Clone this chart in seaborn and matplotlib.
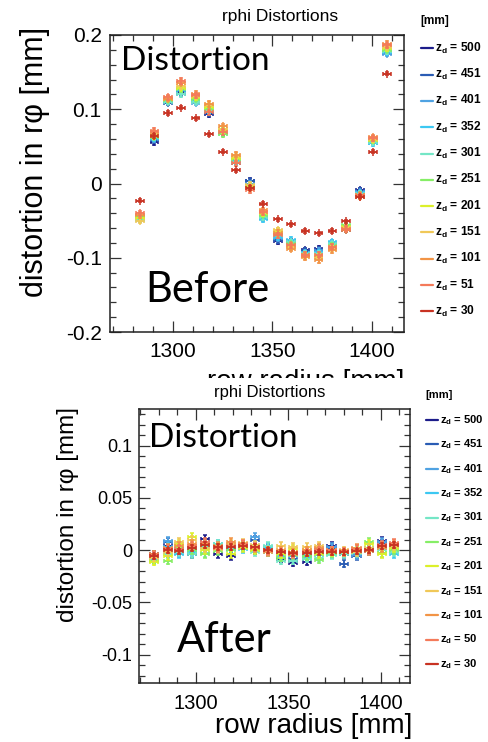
import numpy as np
import pandas as pd
import matplotlib
matplotlib.use("Agg")
import matplotlib.pyplot as plt
from matplotlib.lines import Line2D
from matplotlib.patches import Rectangle
import seaborn as sns

# ---------------- data ----------------
z_before = ["500", "451", "401", "352", "301", "251", "201", "151", "101", "51", "30"]
z_after = ["500", "451", "401", "352", "301", "251", "201", "151", "101", "50", "30"]
series_colors = ["#1c1c8a", "#2a5cb4", "#4fa2e2", "#3cc8f2", "#74e6c6", "#86ee66",
                 "#dcf02a", "#f0c858", "#f29446", "#f47a5a", "#c83222"]

r_before = [1283.6, 1290.8, 1297.5, 1304.2, 1311.4, 1318.2, 1325.1, 1331.7, 1338.8, 1345.5,
            1352.8, 1359.4, 1366.5, 1373.2, 1380.1, 1386.8, 1393.8, 1400.5, 1407.5]
before = {
    "500": [-0.045, 0.056, 0.110, 0.122, 0.116, 0.093, 0.068, 0.030, 0.004, -0.046, -0.078, -0.080, -0.090, -0.088, -0.083, -0.062, -0.009, 0.058, 0.177],
    "451": [-0.047, 0.058, 0.109, 0.124, 0.113, 0.095, 0.069, 0.028, 0.003, -0.044, -0.076, -0.078, -0.091, -0.089, -0.082, -0.061, -0.010, 0.057, 0.176],
    "401": [-0.048, 0.060, 0.111, 0.121, 0.109, 0.104, 0.070, 0.031, 0.000, -0.047, -0.074, -0.081, -0.093, -0.091, -0.080, -0.060, -0.012, 0.055, 0.175],
    "352": [-0.046, 0.061, 0.112, 0.126, 0.112, 0.098, 0.071, 0.032, -0.002, -0.048, -0.072, -0.076, -0.094, -0.093, -0.079, -0.058, -0.013, 0.054, 0.177],
    "301": [-0.049, 0.062, 0.110, 0.120, 0.110, 0.099, 0.067, 0.029, -0.003, -0.045, -0.070, -0.079, -0.095, -0.095, -0.082, -0.057, -0.014, 0.056, 0.178],
    "251": [-0.044, 0.063, 0.113, 0.127, 0.114, 0.101, 0.066, 0.033, -0.005, -0.042, -0.068, -0.082, -0.096, -0.097, -0.084, -0.056, -0.015, 0.058, 0.180],
    "201": [-0.047, 0.064, 0.114, 0.129, 0.116, 0.103, 0.072, 0.035, -0.004, -0.040, -0.064, -0.084, -0.097, -0.098, -0.086, -0.059, -0.016, 0.059, 0.182],
    "151": [-0.050, 0.066, 0.115, 0.131, 0.118, 0.106, 0.074, 0.037, -0.002, -0.038, -0.063, -0.086, -0.098, -0.100, -0.088, -0.060, -0.017, 0.060, 0.184],
    "101": [-0.043, 0.069, 0.114, 0.136, 0.121, 0.107, 0.077, 0.039, -0.006, -0.036, -0.066, -0.088, -0.099, -0.103, -0.090, -0.062, -0.018, 0.062, 0.188],
    "51":  [-0.040, 0.071, 0.116, 0.138, 0.119, 0.096, 0.069, 0.027, -0.009, -0.039, -0.070, -0.083, -0.096, -0.096, -0.085, -0.061, -0.016, 0.061, 0.186],
    "30":  [-0.023, 0.064, 0.095, 0.102, 0.088, 0.066, 0.043, 0.018, -0.006, -0.027, -0.048, -0.055, -0.064, -0.067, -0.064, -0.051, -0.018, 0.043, 0.148],
}

r_after = [1277.5, 1284.7, 1291.0, 1298.0, 1304.9, 1311.7, 1318.8, 1325.6, 1331.9, 1339.1,
           1345.9, 1352.6, 1359.8, 1366.6, 1373.3, 1380.1, 1386.8, 1393.7, 1400.7, 1407.2]
after = {
    "500": [-0.004, 0.004, -0.002, -0.004, 0.011, -0.004, -0.006, 0.003, 0.000, -0.002, -0.008, -0.012, -0.011, -0.004, 0.004, -0.004, -0.004, 0.001, 0.009, 0.002],
    "451": [-0.006, 0.008, 0.000, 0.002, 0.007, 0.002, 0.001, 0.005, 0.010, 0.001, -0.004, -0.008, -0.006, 0.001, 0.002, -0.013, -0.006, -0.001, 0.006, 0.003],
    "401": [-0.008, 0.009, -0.003, 0.000, 0.005, 0.004, 0.003, 0.002, 0.013, 0.002, -0.003, -0.006, -0.004, -0.002, 0.003, -0.002, -0.005, 0.000, 0.008, 0.001],
    "352": [-0.009, 0.003, -0.004, -0.002, 0.003, 0.006, 0.002, 0.001, 0.004, 0.003, -0.006, -0.004, -0.007, -0.005, -0.004, -0.003, -0.002, 0.002, 0.002, -0.004],
    "301": [-0.007, -0.004, -0.002, -0.004, -0.003, 0.006, 0.005, 0.003, -0.002, 0.004, -0.010, -0.010, -0.008, -0.007, -0.005, -0.004, -0.003, 0.001, 0.000, -0.002],
    "251": [-0.010, -0.010, 0.002, 0.000, -0.004, -0.001, 0.000, 0.004, 0.001, -0.001, -0.007, -0.005, -0.006, -0.009, -0.003, -0.002, 0.000, 0.008, -0.003, 0.000],
    "201": [-0.011, -0.006, 0.006, 0.013, 0.000, 0.003, -0.004, 0.002, 0.000, 0.000, -0.004, 0.001, -0.001, -0.004, -0.002, -0.001, 0.001, 0.006, -0.004, 0.002],
    "151": [-0.007, -0.002, 0.008, 0.010, 0.002, 0.001, 0.006, 0.007, 0.005, -0.002, 0.004, 0.003, 0.003, 0.004, 0.000, 0.000, -0.002, 0.002, 0.004, 0.004],
    "101": [-0.004, 0.002, 0.004, 0.006, 0.006, 0.004, 0.008, 0.005, 0.002, 0.000, 0.000, -0.002, 0.000, 0.002, -0.001, -0.002, 0.002, -0.001, 0.002, 0.006],
    "50":  [-0.005, 0.001, 0.001, 0.004, 0.008, 0.002, 0.004, 0.006, 0.003, -0.001, -0.002, -0.004, -0.002, 0.000, 0.000, -0.001, 0.001, 0.000, 0.005, 0.007],
    "30":  [-0.006, 0.000, -0.001, 0.002, 0.005, 0.003, 0.003, 0.004, 0.003, 0.000, -0.002, -0.003, -0.003, -0.002, -0.002, -0.002, -0.001, 0.000, 0.004, 0.005],
}

# ---------------- style ----------------
sns.set_style("ticks")
plt.rcParams["font.family"] = ["Liberation Sans", "DejaVu Sans"]
plt.rcParams["mathtext.fontset"] = "custom"
plt.rcParams["mathtext.rm"] = "Liberation Sans"
plt.rcParams["mathtext.bf"] = "Liberation Sans:bold"
plt.rcParams["text.color"] = "black"
plt.rcParams["xtick.labelcolor"] = "black"
plt.rcParams["ytick.labelcolor"] = "black"

W, H = 489, 742
fig = plt.figure(figsize=(W / 100, H / 100), dpi=100)
fig.patch.set_facecolor("white")


def fx(px):
    return px / W


def fy(py):
    return 1 - py / H


def style_axes(ax, xmin, xmax, ymin, ymax, ymaj, ymin_step, lsize_y, lsize_x, ypad, xpad):
    ax.set_xlim(xmin, xmax)
    ax.set_ylim(ymin, ymax)
    ax.set_xticks([1300, 1350, 1400])
    ax.set_xticks(np.arange(1270, 1420, 10), minor=True)
    ax.set_yticks(ymaj)
    ax.set_yticks(ymin_step, minor=True)
    ax.tick_params(which="both", direction="in", top=True, right=True, width=0.9, color="#333333")
    ax.tick_params(which="major", length=8)
    ax.tick_params(which="minor", length=4.5)
    ax.tick_params(axis="y", which="major", labelsize=lsize_y, pad=ypad, labelcolor="black")
    ax.tick_params(axis="x", which="major", labelsize=lsize_x, pad=xpad, labelcolor="black")
    for s in ax.spines.values():
        s.set_linewidth(1.1)
        s.set_color("#222222")
    ax.set_xlabel("")
    ax.set_ylabel("")
    ax.set_facecolor("white")


def draw_series(ax, radii, data, keys, xerr, yerr_main, yerr_last):
    for i, k in enumerate(keys):
        col = series_colors[i]
        last = (i == len(keys) - 1)
        ye = yerr_last if last else yerr_main
        ax.errorbar(radii, data[k], xerr=xerr, yerr=ye, fmt="none", ecolor=col,
                    elinewidth=1.1, capsize=1.6, capthick=1.1, zorder=2 + i)
        df = pd.DataFrame({"r": radii, "d": data[k]})
        sns.scatterplot(data=df, x="r", y="d", ax=ax, marker="+", color=col, s=30,
                        linewidth=1.1, zorder=2.5 + i, legend=False)


# ---------------- top panel (Before) ----------------
ax1 = fig.add_axes([fx(110), fy(332), fx(404) - fx(110), fy(35) - fy(332)], zorder=1)
draw_series(ax1, r_before, before, z_before, 1.9, 0.0035, 0.0022)
style_axes(ax1, 1268.5, 1416, -0.2, 0.2,
           [-0.2, -0.1, 0, 0.1, 0.2], np.arange(-0.2, 0.201, 0.02),
           15, 15, 6, 7)
ax1.set_yticklabels(["-0.2", "-0.1", "0", "0.1", "0.2"])

# ---------------- bottom panel (After) ----------------
ax2 = fig.add_axes([fx(139), fy(683), fx(410) - fx(139), fy(409) - fy(683)], zorder=3)
draw_series(ax2, r_after, after, z_after, 2.2, 0.0035, 0.0025)
style_axes(ax2, 1269.2, 1415.7, -0.127, 0.135,
           [-0.1, -0.05, 0, 0.05, 0.1], np.arange(-0.12, 0.131, 0.01),
           13, 14.5, 5, 8)
ax2.set_yticklabels(["-0.1", "-0.05", "0", "0.05", "0.1"])

# top panel labels
fig.text(fx(280), fy(17), "rphi Distortions", ha="center", va="center", fontsize=12.5, zorder=1.5)
fig.text(fx(404), fy(389), "row radius [mm]", ha="right", va="baseline", fontsize=20, zorder=1.5)
fig.text(fx(35), fy(27), "distortion in rφ [mm]", rotation=90, ha="center", va="top",
         fontsize=22, zorder=1.5)
fig.text(fx(121), fy(70), "Distortion", fontfamily="Lato", fontsize=24, ha="left",
         va="baseline", zorder=10)
fig.text(fx(145), fy(302), "Before", fontfamily="Lato", fontsize=30, ha="left",
         va="baseline", zorder=10)

# cover of the lower half (second image overlapping)
fig.add_artist(Rectangle((0, 0), 1, fy(378), transform=fig.transFigure,
                         facecolor="white", edgecolor="none", zorder=2))

# bottom panel labels
fig.text(fx(270), fy(392), "rphi Distortions", ha="center", va="center", fontsize=12, zorder=4)
fig.text(fx(412), fy(733), "row radius [mm]", ha="right", va="baseline", fontsize=20, zorder=4)
fig.text(fx(68), fy(407), "distortion in rφ [mm]", rotation=90, ha="center", va="top",
         fontsize=17.5, zorder=4)
fig.text(fx(149), fy(447), "Distortion", fontfamily="Lato", fontsize=24, ha="left",
         va="baseline", zorder=10)
fig.text(fx(177), fy(652), "After", fontfamily="Lato", fontsize=30, ha="left",
         va="baseline", zorder=10)

# ---------------- legends ----------------
def draw_legend(keys, x0, x1, y_head, y_first, step, zord, fs):
    fig.text(fx(x0 - 1), fy(y_head), "[mm]", fontsize=fs, fontweight="bold",
             ha="left", va="center", zorder=zord)
    for i, k in enumerate(keys):
        yy = y_first + step * i
        fig.add_artist(Line2D([fx(x0), fx(x1)], [fy(yy), fy(yy)], transform=fig.transFigure,
                              color=series_colors[i], lw=1.6, zorder=zord))
        fig.text(fx(x1 + 2), fy(yy), r"z$_\mathbf{d}$ = " + k, fontsize=fs,
                 fontweight="bold", ha="left", va="center", zorder=zord)


draw_legend(z_before, 421, 433, 21, 48.3, 26.3, 1.5, 8.6)
draw_legend(z_after, 426, 438, 395, 420, 24.4, 4, 8.0)

fig.savefig("out.png", dpi=100, facecolor="white")
